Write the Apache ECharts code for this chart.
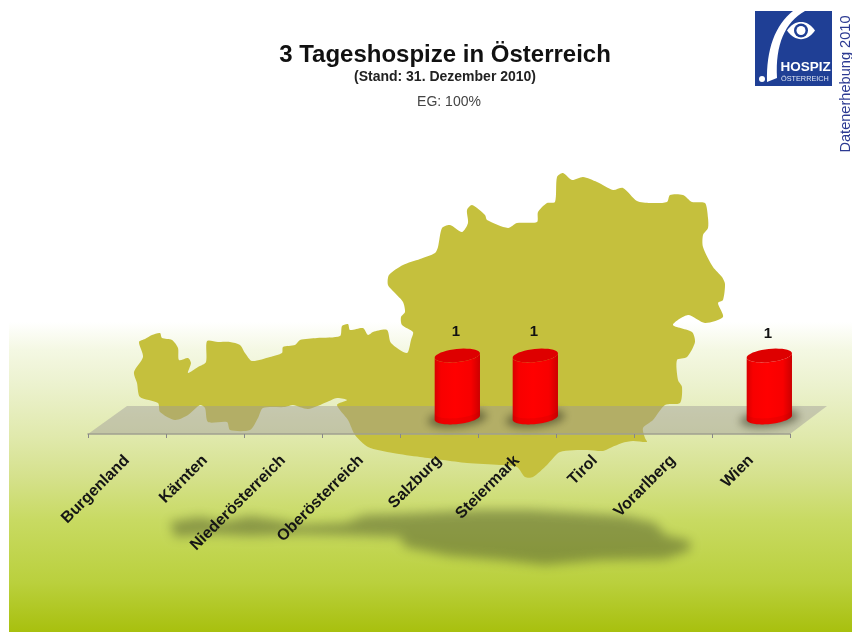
<!DOCTYPE html>
<html>
<head>
<meta charset="utf-8">
<script src="https://cdn.jsdelivr.net/npm/echarts@6/dist/echarts.min.js"></script>
<style>html,body{margin:0;padding:0;background:#fff}#c{width:852px;height:632px}</style>
</head>
<body>
<div id="c"></div>
<script>
const categories = ['Burgenland','Kärnten','Niederösterreich','Oberösterreich','Salzburg','Steiermark','Tirol','Vorarlberg','Wien'];
const values = [0,0,0,0,1,1,0,0,1];
const titleText = '3 Tageshospize in Österreich';
const subtitleText = '(Stand: 31. Dezember 2010)';
const noteText = 'EG: 100%';
const sideText = 'Datenerhebung 2010';

// Decorative silhouette of Austria (backdrop picture, not data)
const mapOutline = [[139,342],[145,339],[152,335],[160,333],[162,338],[172,340],[178,348],[179,360],[188,358],[191,363],[188,373],[198,367],[206,362],[207,341],[218,342],[230,342],[240,345],[245,353],[252,361],[270,357],[282,353],[283,347],[295,345],[300,340],[317,338],[340,336],[342,326],[348,324],[350,330],[363,328],[368,335],[373,332],[387,330],[391,343],[407,353],[411,340],[413,332],[402,325],[401,317],[405,312],[403,302],[395,293],[388,285],[389,275],[403,265],[420,259],[435,253],[438,247],[442,228],[450,225],[462,232],[468,223],[467,210],[472,205],[485,215],[487,220],[508,228],[517,223],[537,222],[538,212],[547,203],[555,202],[557,177],[563,173],[572,180],[583,177],[597,182],[613,190],[623,188],[637,201],[650,203],[667,202],[670,195],[683,195],[692,202],[705,203],[708,218],[708,228],[703,235],[703,247],[713,267],[722,277],[725,284],[723,300],[718,303],[723,317],[705,323],[688,315],[673,325],[692,332],[695,342],[687,357],[677,360],[678,380],[682,387],[680,403],[665,405],[653,420],[643,428],[645,438],[647,442],[633,441],[622,443],[610,448],[603,451],[587,450],[560,452],[547,465],[533,477],[525,477],[517,467],[500,465],[467,463],[443,460],[420,457],[393,453],[368,447],[355,435],[348,420],[337,405],[347,400],[337,398],[327,402],[308,409],[293,405],[285,407],[263,408],[258,418],[250,430],[230,430],[227,422],[208,422],[205,408],[200,405],[188,415],[175,420],[160,412],[158,403],[140,397],[137,383],[134,372],[143,357]];
const mapShadow = [[170,522],[200,517],[222,522],[250,516],[277,520],[300,525],[345,523],[365,515],[400,514],[440,512],[480,510],[530,510],[580,513],[625,516],[655,523],[665,535],[690,541],[690,550],[665,559],[600,560],[545,565],[500,560],[450,556],[405,547],[400,537],[345,535],[300,534],[250,536],[215,534],[175,537]];

const OFF = 3000;
const chart = echarts.init(document.getElementById('c'), null, {renderer:'canvas'});

function bez(p0,p1,p2,p3){const o=[];for(let k=0;k<=16;k++){const t=k/16,u=1-t;
  o.push([u*u*u*p0[0]+3*u*u*t*p1[0]+3*u*t*t*p2[0]+t*t*t*p3[0],u*u*u*p0[1]+3*u*u*t*p1[1]+3*u*t*t*p2[1]+t*t*t*p3[1]]);}return o;}
const swoosh = bez([767,82],[766,50],[775,25],[793,11]).concat(bez([805,11],[785,22],[775,45],[777,78]));
const eyeWhite = bez([787,30.5],[795,19],[807,19],[815,30.5]).concat(bez([815,30.5],[807,42],[795,42],[787,30.5]));

function cylinder(params, api){
  const i = api.value(0), v = api.value(1);
  if(!v) return {type:'group', children:[]};
  const base = api.coord([i,0]);
  const top = api.coord([i,v]);
  const band = api.size([1,0])[0];
  const dx = band*0.235, dy = 16.5;        // 3D depth shift of the bars on the floor
  const rx = band*0.292, ry = 6.5, tilt = -6*Math.PI/180;
  const cx = base[0]+dx, by = base[1]-dy, ty = top[1]-dy;
  const ell = (yc,from,to,sc)=>{const s=sc||1,p=[];for(let k=0;k<=40;k++){const t=from+(to-from)*k/40;
    const ex=s*rx*Math.cos(t),ey=s*ry*Math.sin(t);
    p.push([cx+ex*Math.cos(tilt)-ey*Math.sin(tilt), yc+ex*Math.sin(tilt)+ey*Math.cos(tilt)]);}return p;};
  const bodyPts = ell(ty,Math.PI,0).concat(ell(by,0,Math.PI));
  const sideGrad = new echarts.graphic.LinearGradient(0,0,1,0,[
    {offset:0,color:'#d80000'},{offset:0.14,color:'#f80000'},{offset:0.45,color:'#ff0000'},
    {offset:0.8,color:'#f80000'},{offset:1,color:'#cc0000'}]);
  const labelShift = i===categories.length-1 ? 2 : 0;
  return {type:'group',children:[
    {type:'polygon',shape:{points:ell(by+1,0,2*Math.PI,1.3).map(p=>[p[0]-OFF,p[1]])},
      style:{fill:'#000',shadowColor:'rgba(50,50,30,0.58)',shadowBlur:9,shadowOffsetX:OFF}},
    {type:'polygon',shape:{points:bodyPts},style:{fill:sideGrad}},
    {type:'polygon',shape:{points:ell(by,0.02,Math.PI-0.02).concat(ell(by-6,Math.PI,0))},style:{fill:'rgba(170,0,0,0.15)'}},
    {type:'polygon',shape:{points:ell(ty,0,2*Math.PI)},style:{fill:'#de0000'}},
    {type:'text',style:{x:cx-1.5,y:ty-24+labelShift,text:String(v),align:'center',verticalAlign:'middle',
      font:'bold 15px "Liberation Sans"',fill:'#111'}}
  ]};
}

chart.setOption({
  animation:false,
  backgroundColor:'#ffffff',
  title:[
    {text:titleText,left:440,top:38,textAlign:'center',textStyle:{fontFamily:'Liberation Sans',fontWeight:'bold',fontSize:24,color:'#111'}},
    {text:subtitleText,left:440,top:65,textAlign:'center',textStyle:{fontFamily:'Liberation Sans',fontWeight:'bold',fontSize:14,color:'#222'}},
    {text:noteText,left:444,top:90,textAlign:'center',textStyle:{fontFamily:'Liberation Sans',fontWeight:'normal',fontSize:14,color:'#444'}}
  ],
  grid:{left:88,right:62,top:359.6,bottom:198,containLabel:false},
  xAxis:{type:'category',data:categories,
    axisLine:{show:true,lineStyle:{color:'#a0a090',width:1.5}},
    axisTick:{show:true,length:4,lineStyle:{color:'#888'}},
    axisLabel:{interval:0,rotate:45,margin:24,fontFamily:'Liberation Sans',fontWeight:'bold',fontSize:16,color:'#151515'}},
  yAxis:{type:'value',min:0,max:1.2,show:false},
  graphic:[
    {type:'rect',z:-10,shape:{x:9,y:322,width:843,height:310},silent:true,
      style:{fill:new echarts.graphic.LinearGradient(0,0,0,1,[
        {offset:0,color:'#ffffff'},{offset:0.09,color:'#f4f8e3'},{offset:0.2,color:'#ecf2cf'},
        {offset:0.37,color:'#e0e9ac'},{offset:0.5,color:'#d5e18c'},{offset:0.64,color:'#c8da62'},
        {offset:0.84,color:'#bad03d'},{offset:1,color:'#a8c00e'}])}},
    {type:'polygon',z:-9,silent:true,shape:{points:mapShadow.map(p=>[p[0]-OFF,p[1]])},
      style:{fill:'#000',shadowColor:'rgba(65,75,40,0.46)',shadowBlur:11,shadowOffsetX:OFF}},
    {type:'polygon',z:-8,silent:true,shape:{points:mapOutline,smooth:0.25},style:{fill:'#c5c03d'}},
    {type:'polygon',z:-7,silent:true,shape:{points:[[88,434],[127,406],[827,406],[790,434]]},style:{fill:'rgba(158,152,152,0.45)'}},
    // logo
    {type:'rect',z:1,silent:true,shape:{x:755,y:11,width:77,height:75},style:{fill:'#1f3f95'}},
    {type:'polygon',z:2,silent:true,shape:{points:swoosh},style:{fill:'#fff'}},
    {type:'polygon',z:2,silent:true,shape:{points:eyeWhite},style:{fill:'#fff'}},
    {type:'circle',z:3,silent:true,shape:{cx:801,cy:30.5,r:7},style:{fill:'#1f3f95'}},
    {type:'circle',z:3,silent:true,shape:{cx:801,cy:30.5,r:4.5},style:{fill:'#fff'}},
    {type:'circle',z:3,silent:true,shape:{cx:762,cy:79,r:3},style:{fill:'#fff'}},
    {type:'text',z:3,silent:true,style:{x:780.5,y:67,text:'HOSPIZ',font:'bold 13.5px "Liberation Sans"',fill:'#fff',verticalAlign:'middle'}},
    {type:'text',z:3,silent:true,style:{x:781,y:79,text:'ÖSTERREICH',font:'7.3px "Liberation Sans"',fill:'#dfe5f2',verticalAlign:'middle'}},
    {type:'text',z:3,silent:true,rotation:Math.PI/2,x:846,y:84,style:{x:0,y:0,text:sideText,font:'14.6px "Liberation Sans"',fill:'#2c3a92',align:'center',verticalAlign:'middle'}}
  ],
  series:[{type:'custom',coordinateSystem:'cartesian2d',z:3,clip:false,
    encode:{x:0,y:1},
    renderItem:cylinder,
    data:values.map((v,i)=>[i,v])}]
});
</script>
</body>
</html>
